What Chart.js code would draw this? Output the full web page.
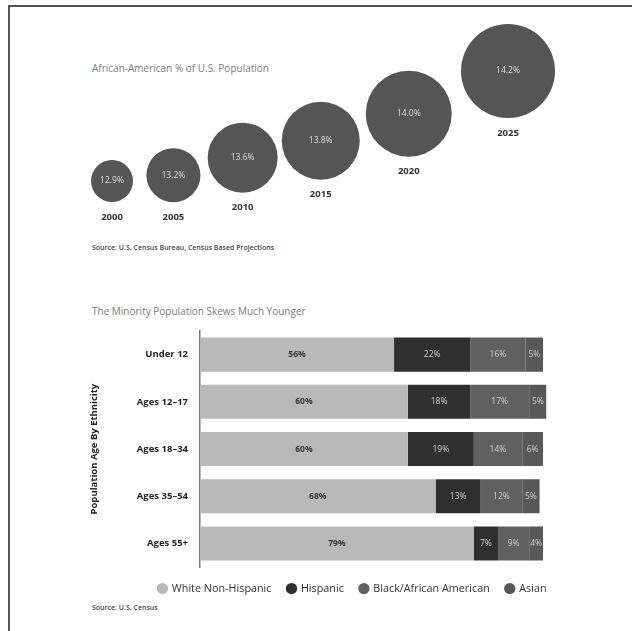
<!DOCTYPE html>
<html>
<head>
<meta charset="utf-8">
<title>African-American population and minority age mix</title>
<script src="https://cdn.jsdelivr.net/npm/chart.js@4/dist/chart.umd.min.js"></script>
<style>
  html, body { margin: 0; padding: 0; background: #fff; }
  body { width: 632px; height: 631px; position: relative; overflow: hidden; font-family: "Open Sans", sans-serif; }
  .frame { position: absolute; left: 8px; top: 5px; right: 0; bottom: 0; border-top: 2px solid #555; border-left: 2px solid #555; }
  .title { position: absolute; left: 92px; font-size: 10px; color: #7a7a7a; white-space: nowrap; }
  .source { position: absolute; left: 92px; font-size: 7px; font-weight: 600; color: #444; white-space: nowrap; }
  #bubbleWrap { position: absolute; left: 0; top: 0; width: 632px; height: 280px; }
  #barWrap { position: absolute; left: 0; top: 290px; width: 632px; height: 341px; }
</style>
</head>
<body>
<div class="frame"></div>
<div class="title" style="top:61px">African-American % of U.S. Population</div>
<div class="source" style="top:243px">Source: U.S. Census Bureau, Census Based Projections</div>
<div class="title" style="top:304px">The Minority Population Skews Much Younger</div>
<div class="source" style="top:603px">Source: U.S. Census</div>
<div id="bubbleWrap"><canvas id="bubble-chart"></canvas></div>
<div id="barWrap"><canvas id="bar-chart"></canvas></div>
<script>
// African-American share of the U.S. population
const years = [2000, 2005, 2010, 2015, 2020, 2025];
const africanAmericanShare = [12.9, 13.2, 13.6, 13.8, 14.0, 14.2];

// Population by age group and ethnicity (%)
const ageGroups = ['Under 12', 'Ages 12–17', 'Ages 18–34', 'Ages 35–54', 'Ages 55+'];
const whiteNonHispanic = [56, 60, 60, 68, 79];
const hispanic = [22, 18, 19, 13, 7];
const blackAfricanAmerican = [16, 17, 14, 12, 9];
const asian = [5, 5, 6, 5, 4];

Chart.defaults.font.family = '"Open Sans", sans-serif';
Chart.defaults.animation = false;

// scale that spreads values along a rising curve, like the infographic layout
class CurveScale extends Chart.LinearScale {
  getPixelForValue(value) {
    const k = this.options.curve || 1;
    const t = (Math.exp(k * (value - this.min)) - 1) / (Math.exp(k * (this.max - this.min)) - 1);
    return this.getPixelForDecimal(t);
  }
  getValueForPixel(pixel) {
    const k = this.options.curve || 1;
    const t = this.getDecimalForPixel(pixel);
    return this.min + Math.log(1 + t * (Math.exp(k * (this.max - this.min)) - 1)) / k;
  }
}
CurveScale.id = 'curve';
CurveScale.defaults = Chart.LinearScale.defaults;
Chart.register(CurveScale);

const bubbleLabels = {
  id: 'bubbleLabels',
  afterDatasetsDraw(chart) {
    const ctx = chart.ctx;
    const meta = chart.getDatasetMeta(0);
    ctx.save();
    ctx.textAlign = 'center';
    ctx.textBaseline = 'middle';
    meta.data.forEach((el, i) => {
      const r = el.options.radius;
      ctx.fillStyle = '#dedede';
      ctx.font = '8.5px "Open Sans"';
      ctx.fillText(africanAmericanShare[i].toFixed(1) + '%', el.x, el.y);
      ctx.fillStyle = '#333';
      ctx.font = 'bold 9.5px "Open Sans"';
      ctx.fillText(String(years[i]), el.x, el.y + r + 15);
    });
    ctx.restore();
  }
};

new Chart(document.getElementById('bubble-chart'), {
  type: 'bubble',
  data: {
    datasets: [{
      label: 'African-American %',
      data: years.map((year, i) => ({
        x: year,
        y: africanAmericanShare[i],
        r: 21 + (africanAmericanShare[i] - 12.9) * 20
      })),
      backgroundColor: '#555555',
      borderWidth: 0,
      clip: false
    }]
  },
  options: {
    responsive: true,
    maintainAspectRatio: false,
    events: [],
    layout: { padding: { left: 112, right: 124, top: 71, bottom: 99 } },
    plugins: { legend: { display: false }, tooltip: { enabled: false } },
    scales: {
      x: { type: 'curve', curve: 0.024, min: 2000, max: 2025, display: false },
      y: { type: 'curve', curve: 2.3, min: 12.9, max: 14.2, display: false }
    }
  },
  plugins: [bubbleLabels]
});

const barLabels = {
  id: 'barLabels',
  afterDatasetsDraw(chart) {
    const ctx = chart.ctx;
    ctx.save();
    ctx.textAlign = 'center';
    ctx.textBaseline = 'middle';
    chart.data.datasets.forEach((ds, d) => {
      chart.getDatasetMeta(d).data.forEach((el, i) => {
        const c = el.getCenterPoint();
        if (d === 0) {
          ctx.fillStyle = '#333';
          ctx.font = 'bold 8.5px "Open Sans"';
        } else {
          ctx.fillStyle = '#d0d0d0';
          ctx.font = '8.5px "Open Sans"';
        }
        ctx.fillText(ds.data[i] + '%', c.x, c.y);
      });
    });
    ctx.restore();
  }
};

// push the legend row flush with the right end of the bars
const legendShift = {
  id: 'legendShift',
  afterLayout(chart) {
    const pad = chart.legend.options.labels.padding;
    chart.legend.left += pad;
    chart.legend.right += pad;
  }
};

new Chart(document.getElementById('bar-chart'), {
  type: 'bar',
  data: {
    labels: ageGroups,
    datasets: [
      { label: 'White Non-Hispanic', data: whiteNonHispanic, backgroundColor: '#b9b9b9' },
      { label: 'Hispanic', data: hispanic, backgroundColor: '#2f2f2f' },
      { label: 'Black/African American', data: blackAfricanAmerican, backgroundColor: '#606060' },
      { label: 'Asian', data: asian, backgroundColor: '#585858' }
    ]
  },
  options: {
    indexAxis: 'y',
    responsive: true,
    maintainAspectRatio: false,
    events: [],
    datasets: { bar: { barPercentage: 1, categoryPercentage: 0.72, borderWidth: 0 } },
    layout: { padding: { left: 85, right: 85.5, top: 41, bottom: 27 } },
    plugins: {
      tooltip: { enabled: false },
      legend: {
        position: 'bottom',
        align: 'end',
        labels: {
          usePointStyle: true,
          pointStyle: 'circle',
          boxWidth: 8,
          boxHeight: 8,
          padding: 16,
          color: '#333',
          font: { size: 10.8 }
        }
      }
    },
    scales: {
      x: { stacked: true, min: 0, max: 100, display: false },
      y: {
        stacked: true,
        grid: { display: false, drawTicks: false },
        border: { display: true, color: '#777', width: 1.5 },
        ticks: { color: '#222', padding: 12, font: { size: 9.5, weight: 'bold' } },
        title: {
          display: true,
          text: 'Population Age By Ethnicity',
          color: '#222',
          font: { size: 9.5, weight: 'bold' },
          padding: { top: 4, bottom: 4 }
        },
        afterFit(scale) { scale.width = 115; }
      }
    }
  },
  plugins: [barLabels, legendShift]
});
</script>
</body>
</html>
